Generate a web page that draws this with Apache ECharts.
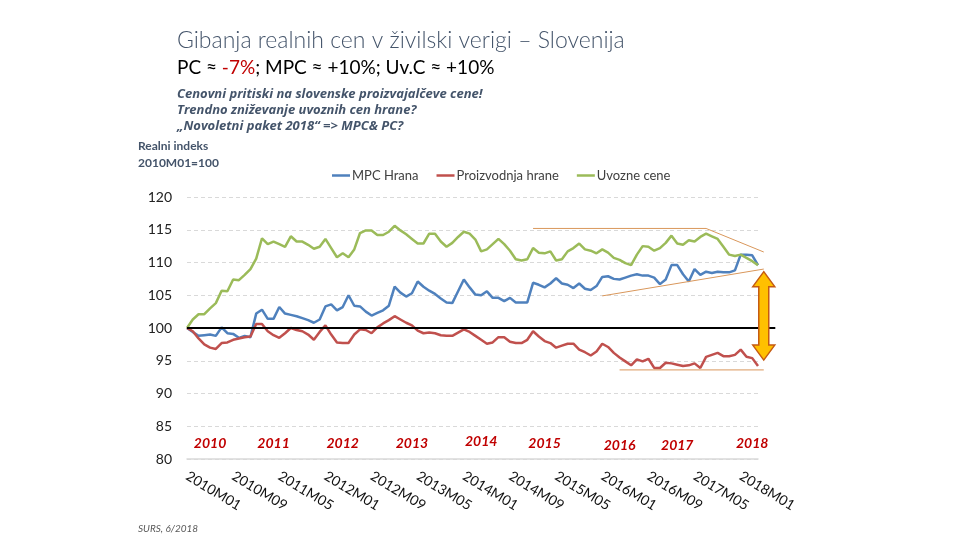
<!DOCTYPE html>
<html>
<head>
<meta charset="utf-8">
<script src="https://cdn.jsdelivr.net/npm/echarts@6/dist/echarts.min.js"></script>
<style>
  html, body { margin: 0; padding: 0; background: #fff; }
  #chart { width: 960px; height: 540px; }
</style>
</head>
<body>
<div id="chart"></div>
<script>
// months 2010M01 .. 2018M04
const months = [];
for (let y = 2010; y <= 2018; y++) {
    for (let m = 1; m <= 12; m++) {
        if (y === 2018 && m > 4) break;
        months.push(y + 'M' + (m < 10 ? '0' + m : m));
    }
}

const mpcHrana = [
    100, 99.4, 98.8, 98.9, 99.0, 98.8, 100.1, 99.2, 99.1, 98.5, 98.8, 98.6,
    102.2, 102.8, 101.4, 101.4, 103.2, 102.2, 102.0, 101.8, 101.5, 101.2, 100.8, 101.3,
    103.3, 103.6, 102.7, 103.2, 105.0, 103.4, 103.3, 102.5, 101.9, 102.3, 102.7, 103.4,
    106.3, 105.4, 104.8, 105.3, 107.1, 106.3, 105.7, 105.2, 104.5, 103.9, 103.8, 105.6,
    107.4, 106.2, 105.1, 105.0, 105.6, 104.6, 104.6, 104.1, 104.6, 103.9, 103.9, 103.9,
    106.9, 106.6, 106.2, 106.8, 107.6, 106.8, 106.6, 106.1, 106.8, 106.0, 105.8, 106.4,
    107.8, 107.9, 107.5, 107.4, 107.7, 108.0, 108.2, 108.0, 108.0, 107.7, 106.7, 107.4,
    109.6, 109.6, 108.2, 107.1, 109.0, 108.1, 108.6, 108.4, 108.6, 108.5, 108.5, 108.8,
    111.2, 111.2, 111.1, 109.6
];

const proizvodnjaHrane = [
    100, 99.5, 98.4, 97.5, 97.0, 96.8, 97.7, 97.8, 98.2, 98.4, 98.6, 98.7,
    100.6, 100.6, 99.5, 98.9, 98.5, 99.2, 100.0, 99.7, 99.5, 99.0, 98.2, 99.4,
    100.4, 99.0, 97.8, 97.7, 97.7, 99.0, 99.8, 99.7, 99.2, 100.1, 100.7, 101.2,
    101.8, 101.3, 100.8, 100.4, 99.6, 99.2, 99.3, 99.2, 98.9, 98.8, 98.8, 99.3,
    99.8, 99.4, 98.8, 98.2, 97.6, 97.8, 98.6, 98.6, 97.9, 97.7, 97.7, 98.2,
    99.5, 98.7, 98.0, 97.7, 97.0, 97.3, 97.6, 97.6, 96.7, 96.3, 95.8, 96.4,
    97.6, 97.1, 96.2, 95.5, 94.9, 94.3, 95.2, 94.9, 95.3, 93.9, 93.9, 94.7,
    94.6, 94.4, 94.2, 94.3, 94.6, 93.9, 95.6, 95.9, 96.2, 95.7, 95.7, 95.9,
    96.7, 95.6, 95.4, 94.2
];

const uvozneCene = [
    100, 101.3, 102.1, 102.1, 103.0, 103.8, 105.7, 105.6, 107.4, 107.3, 108.1, 109.0,
    110.6, 113.7, 112.8, 113.2, 112.8, 112.4, 114.0, 113.2, 113.2, 112.7, 112.1, 112.4,
    113.6, 112.2, 110.8, 111.4, 110.8, 112.0, 114.5, 114.9, 114.9, 114.2, 114.2, 114.7,
    115.6, 114.9, 114.3, 113.6, 112.9, 112.9, 114.4, 114.4, 113.2, 112.4, 113.0, 113.9,
    114.7, 114.4, 113.5, 111.7, 112.0, 112.8, 113.6, 112.8, 111.8, 110.5, 110.3, 110.5,
    112.2, 111.5, 111.4, 111.7, 110.3, 110.5, 111.7, 112.2, 112.9, 112.0, 111.8, 111.4,
    112.0, 111.5, 110.7, 110.4, 109.9, 109.6, 111.2, 112.5, 112.4, 111.8, 112.2, 113.0,
    114.1, 112.9, 112.7, 113.4, 113.2, 113.9, 114.4, 114.0, 113.6, 112.4, 111.2, 111.0,
    111.2, 110.7, 110.2, 109.6
];

// year labels (red, inside plot), positioned by month index / value
const yearLabels = ['2010', '2011', '2012', '2013', '2014', '2015', '2016', '2017', '2018'];
const yearLabelX = [3.6, 15.3, 27.2, 39.2, 50.8, 62.2, 74.5, 85.4, 97.6];
const yearLabelY = [82.4, 82.4, 82.4, 82.4, 82.75, 82.4, 82.1, 82.1, 82.4];

// thin orange trend lines [[index, value], [index, value]]
const trendLines = [
    [[59.8, 115.2], [89.8, 115.2]],
    [[89.8, 115.2], [99.8, 111.6]],
    [[72.4, 104.9], [100.2, 109.0]],
    [[74.7, 93.6], [100.2, 93.6]]
];
const baseLine = [[-0.3, 100], [102.2, 100]];
const arrowSpan = [99.8, 108.6, 95.1]; // index, top value, bottom value

const font = 'Lato, "Open Sans", sans-serif';
const chart = echarts.init(document.getElementById('chart'));

chart.setOption({
    animation: false,
    title: [
        {
            text: 'Gibanja realnih cen v živilski verigi – Slovenija',
            left: 172, top: 24,
            textStyle: { fontFamily: font, fontSize: 23, fontWeight: 300, color: '#44546a' }
        },
        {
            text: 'PC ≈ {r|-7%}; MPC ≈ +10%; Uv.C ≈ +10%',
            left: 172, top: 53,
            textStyle: {
                fontFamily: font, fontSize: 19, fontWeight: 'normal', color: '#000',
                rich: { r: { fontFamily: font, fontSize: 19, color: '#c00000' } }
            }
        },
        {
            text: 'Cenovni pritiski na slovenske proizvajalčeve cene!\nTrendno zniževanje uvoznih cen hrane?\n„Novoletni paket 2018“ => MPC& PC?',
            left: 172, top: 81,
            textStyle: {
                fontFamily: '"Open Sans", sans-serif', fontSize: 13, fontStyle: 'italic', fontWeight: 'bold',
                color: '#44546a', lineHeight: 16
            }
        },
        {
            text: 'Realni indeks\n2010M01=100',
            left: 133, top: 133,
            textStyle: { fontFamily: font, fontSize: 12, fontWeight: 'bold', color: '#44546a', lineHeight: 17 }
        },
        {
            text: 'SURS, 6/2018',
            left: 133, top: 519,
            textStyle: { fontFamily: font, fontSize: 10, fontStyle: 'italic', fontWeight: 'normal', color: '#595959' }
        }
    ],
    legend: {
        top: 164, left: 327,
        icon: 'rect', itemWidth: 18, itemHeight: 2.5, itemGap: 18,
        textStyle: { fontFamily: font, fontSize: 13, color: '#404040', padding: [0, 0, 0, -3] },
        data: ['MPC Hrana', 'Proizvodnja hrane', 'Uvozne cene']
    },
    grid: { left: 187, right: 202, top: 197, bottom: 81 },
    xAxis: {
        type: 'category',
        data: months,
        boundaryGap: false,
        axisTick: { show: false },
        axisLine: { lineStyle: { color: '#d9d9d9', width: 1.5 } },
        axisLabel: {
            interval: 7, rotate: -31, margin: 16,
            fontFamily: font, fontSize: 14, color: '#111'
        },
        splitLine: { show: false }
    },
    yAxis: {
        type: 'value',
        min: 80, max: 120, interval: 5,
        axisLine: { show: false },
        axisTick: { show: false },
        axisLabel: { fontFamily: font, fontSize: 14, color: '#222', margin: 15 },
        splitLine: { lineStyle: { color: '#d9d9d9', type: [4, 3] } }
    },
    series: [
        {
            name: 'MPC Hrana', type: 'line', data: mpcHrana, showSymbol: false,
            lineStyle: { width: 2.5, color: '#4f81bd' }, itemStyle: { color: '#4f81bd' }, z: 3
        },
        {
            name: 'Proizvodnja hrane', type: 'line', data: proizvodnjaHrane, showSymbol: false,
            lineStyle: { width: 2.5, color: '#c0504d' }, itemStyle: { color: '#c0504d' }, z: 3
        },
        {
            name: 'Uvozne cene', type: 'line', data: uvozneCene, showSymbol: false,
            lineStyle: { width: 2.5, color: '#9bbb59' }, itemStyle: { color: '#9bbb59' }, z: 3
        }
    ]
});

// annotations placed through the chart's own scales
const px = (p) => chart.convertToPixel({ gridIndex: 0 }, p);
const graphics = [];

trendLines.forEach(function (seg) {
    const a = px(seg[0]), b = px(seg[1]);
    graphics.push({
        type: 'line', z: 10,
        shape: { x1: a[0], y1: a[1], x2: b[0], y2: b[1] },
        style: { stroke: '#d9975b', lineWidth: 1 }
    });
});

const b0 = px(baseLine[0]), b1 = px(baseLine[1]);
graphics.push({
    type: 'line', z: 11,
    shape: { x1: b0[0], y1: b0[1], x2: b1[0], y2: b1[1] },
    style: { stroke: '#000', lineWidth: 2 }
});

const arrTop = px([arrowSpan[0], arrowSpan[1]]);
const arrBot = px([arrowSpan[0], arrowSpan[2]]);
const cx = arrTop[0], hw = 11, sw = 5, hh = 15;
graphics.push({
    type: 'polygon', z: 12,
    shape: {
        points: [
            [cx, arrTop[1]], [cx + hw, arrTop[1] + hh], [cx + sw, arrTop[1] + hh],
            [cx + sw, arrBot[1] - hh], [cx + hw, arrBot[1] - hh], [cx, arrBot[1]],
            [cx - hw, arrBot[1] - hh], [cx - sw, arrBot[1] - hh], [cx - sw, arrTop[1] + hh],
            [cx - hw, arrTop[1] + hh]
        ]
    },
    style: { fill: '#ffc000', stroke: '#c55a11', lineWidth: 1.5 }
});

yearLabels.forEach(function (t, i) {
    const p = px([yearLabelX[i], yearLabelY[i]]);
    graphics.push({
        type: 'text', z: 12, x: p[0], y: p[1],
        style: {
            text: t, align: 'center', verticalAlign: 'middle',
            font: 'italic bold 14px ' + font, fill: '#c00000'
        }
    });
});

chart.setOption({ graphic: graphics });
</script>
</body>
</html>
